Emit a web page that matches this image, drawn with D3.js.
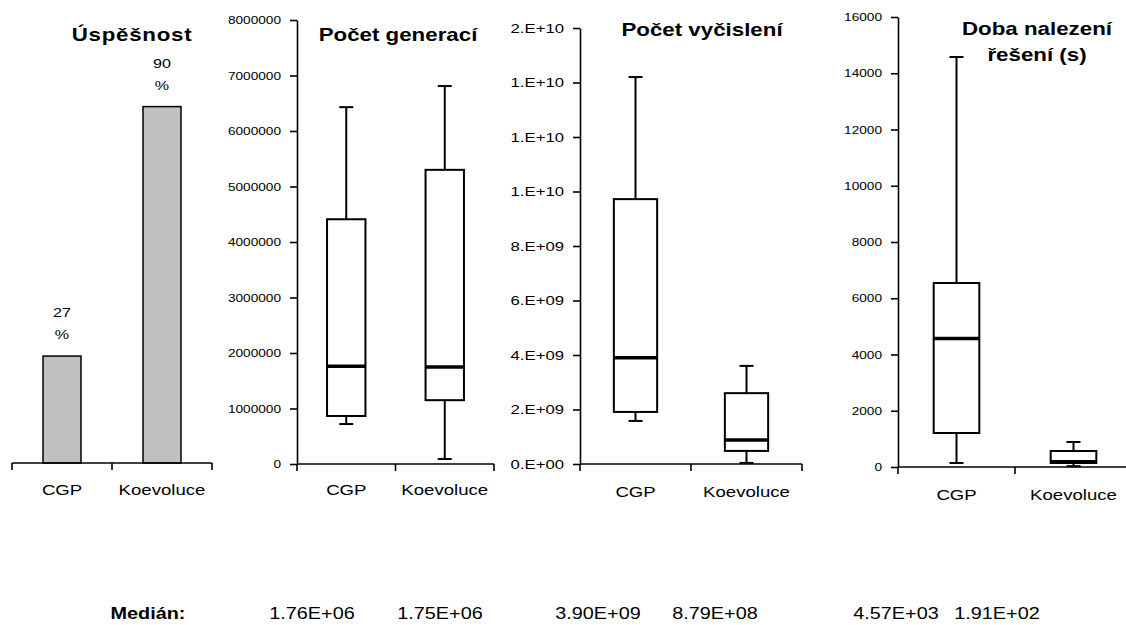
<!DOCTYPE html>
<html>
<head>
<meta charset="utf-8">
<script src="https://cdn.jsdelivr.net/npm/d3@7"></script>
<style>
  body { margin: 0; background: #fff; }
  svg { font-family: "Liberation Sans", Arial, sans-serif; display: block; }
</style>
</head>
<body>
<div id="chart"></div>
<script>
// ----------------------
// Data
// ----------------------
const categories = ["CGP", "Koevoluce"];

// success rate in %
const successRate = [27, 90];

// box plot stats per category: [min, q1, median, q3, max]
const generations = [
    [720000, 865000, 1760000, 4410000, 6430000],
    [90000, 1150000, 1750000, 5300000, 6810000]
];
const evaluations = [
    [1.58e9, 1.91e9, 3.90e9, 9.72e9, 1.42e10],
    [0.04e9, 0.48e9, 8.79e8, 2.60e9, 3.60e9]
];
const solveTime = [
    [142, 1209, 4570, 6542, 14578],
    [30, 142, 191, 569, 889]
];

const genTicks = d3.range(0, 8000001, 1000000);
const evalTicks = d3.range(0, 1.6e10 + 1, 2e9);
const timeTicks = d3.range(0, 16001, 2000);

// ----------------------
// Setup
// ----------------------
const width = 1126, height = 625;
const SX = 1.24;   // the source image is stretched horizontally

const svg = d3.select("#chart")
    .append("svg")
    .attr("width", width)
    .attr("height", height);

// text that gets the same horizontal stretch as the reference
function stretchText(g, x, y, str, size, weight, anchor) {
    return g.append("text")
        .attr("transform", `translate(${x},${y}) scale(${SX},1)`)
        .attr("text-anchor", anchor || "middle")
        .attr("font-size", size + "px")
        .attr("font-weight", weight || "normal")
        .attr("fill", "#000")
        .text(str);
}

// Excel style "0.E+00"
function excelExp0(v) {
    const [m, e] = v.toExponential(0).split("e");
    const n = Math.abs(+e);
    return m + ".E" + (+e < 0 ? "-" : "+") + (n < 10 ? "0" + n : n);
}
// Excel style "0.00E+00"
function excelExp2(v) {
    const [m, e] = v.toExponential(2).split("e");
    const n = Math.abs(+e);
    return m + "E" + (+e < 0 ? "-" : "+") + (n < 10 ? "0" + n : n);
}

// category axis with boundary ticks
function drawCatAxis(g, x, yPos) {
    const r = x.range();
    g.append("line")
        .attr("x1", r[0]).attr("x2", r[1])
        .attr("y1", yPos).attr("y2", yPos)
        .attr("stroke", "#000").attr("stroke-width", 1.6);
    const bounds = [r[0], x(categories[1]), r[1]];
    g.selectAll(".ctick")
        .data(bounds)
        .enter()
        .append("line")
        .attr("x1", d => d).attr("x2", d => d)
        .attr("y1", yPos).attr("y2", yPos + 7)
        .attr("stroke", "#000").attr("stroke-width", 1.6);
}

// ----------------------
// Panel 1: success rate bars
// ----------------------
(function () {
    const g = svg.append("g");
    const x = d3.scaleBand().domain(categories).range([12, 212]);
    const y = d3.scaleLinear().domain([0, 100]).range([463, 67]);
    const bw = x.bandwidth() * 0.38;

    g.selectAll("rect")
        .data(successRate)
        .enter()
        .append("rect")
        .attr("x", (d, i) => x(categories[i]) + (x.bandwidth() - bw) / 2)
        .attr("y", d => y(d))
        .attr("width", bw)
        .attr("height", d => y(0) - y(d))
        .attr("fill", "#c0c0c0")
        .attr("stroke", "#000")
        .attr("stroke-width", 1.5);

    successRate.forEach((v, i) => {
        const cx = x(categories[i]) + x.bandwidth() / 2;
        stretchText(g, cx, y(v) - 39, v, 13);
        stretchText(g, cx, y(v) - 17, "%", 13);
        stretchText(g, cx, 495, categories[i], 15);
    });

    drawCatAxis(g, x, 463);
    stretchText(g, 132, 41, "Úspěšnost", 18, "bold").attr("letter-spacing", "0.6px");
})();

// ----------------------
// Box plot panels
// ----------------------
function drawBoxPanel(cfg) {
    const g = svg.append("g");
    const x = d3.scaleBand().domain(categories).range([cfg.x0, cfg.x1]);
    const y = d3.scaleLinear().domain([0, d3.max(cfg.ticks)]).range([cfg.y0, cfg.y1]);

    // y axis
    const ax = g.append("g")
        .attr("transform", `translate(${cfg.x0},0)`)
        .call(d3.axisLeft(y)
            .tickValues(cfg.ticks)
            .tickFormat(cfg.fmt)
            .tickSize(7)
            .tickSizeOuter(0)
            .tickPadding(9));
    ax.select(".domain").attr("stroke-width", 1.6);
    ax.selectAll(".tick line").attr("stroke-width", 1.6);
    ax.selectAll(".tick text")
        .attr("font-family", null)
        .attr("font-size", cfg.tickFont + "px")
        .attr("fill", "#000")
        .attr("x", -16 / SX)
        .attr("transform", `scale(${SX},1)`);

    drawCatAxis(g, x, cfg.y0);

    const bw = x.bandwidth() * 0.39;
    const capW = 14;

    cfg.data.forEach((s, i) => {
        const cx = x(categories[i]) + x.bandwidth() / 2;
        const [mn, q1, med, q3, mx] = s;
        const box = g.append("g").attr("stroke", "#000").attr("fill", "none");

        // whiskers
        box.append("line").attr("x1", cx).attr("x2", cx)
            .attr("y1", y(mx)).attr("y2", y(q3)).attr("stroke-width", 2);
        box.append("line").attr("x1", cx).attr("x2", cx)
            .attr("y1", y(q1)).attr("y2", y(mn)).attr("stroke-width", 2);
        [mn, mx].forEach(v => {
            box.append("line")
                .attr("x1", cx - capW / 2).attr("x2", cx + capW / 2)
                .attr("y1", y(v)).attr("y2", y(v))
                .attr("stroke-width", 2);
        });

        // box
        box.append("rect")
            .attr("x", cx - bw / 2)
            .attr("y", y(q3))
            .attr("width", bw)
            .attr("height", y(q1) - y(q3))
            .attr("fill", "#fff")
            .attr("stroke-width", 2);

        // median
        box.append("line")
            .attr("x1", cx - bw / 2).attr("x2", cx + bw / 2)
            .attr("y1", y(med)).attr("y2", y(med))
            .attr("stroke-width", 3.5);

        stretchText(g, cx, cfg.labelY, categories[i], 15);
    });

    cfg.title.forEach((t, k) => {
        stretchText(g, cfg.titleX, cfg.titleY[k], t, 18, "bold");
    });
}

drawBoxPanel({
    x0: 297, x1: 494, y0: 464, y1: 20,
    ticks: genTicks, fmt: d3.format("d"), tickFont: 11,
    data: generations,
    title: ["Počet generací"], titleX: 398, titleY: [41],
    labelY: 495
});

drawBoxPanel({
    x0: 580, x1: 802, y0: 464, y1: 28,
    ticks: evalTicks, fmt: excelExp0, tickFont: 13.5,
    data: evaluations,
    title: ["Počet vyčislení"], titleX: 702, titleY: [36],
    labelY: 497
});

drawBoxPanel({
    x0: 898, x1: 1132, y0: 467, y1: 17,
    ticks: timeTicks, fmt: d3.format("d"), tickFont: 11,
    data: solveTime,
    title: ["Doba nalezení", "řešení (s)"], titleX: 1037, titleY: [35, 61],
    labelY: 500
});

// ----------------------
// Median row
// ----------------------
const medianCols = [312, 440, 598, 715, 896, 997];
const medians = [generations, evaluations, solveTime]
    .flatMap(set => set.map(s => s[2]));

const gMed = svg.append("g");
stretchText(gMed, 148, 619, "Medián:", 16, "bold");
medians.forEach((m, i) => {
    stretchText(gMed, medianCols[i], 619, excelExp2(m), 16);
});
</script>
</body>
</html>
